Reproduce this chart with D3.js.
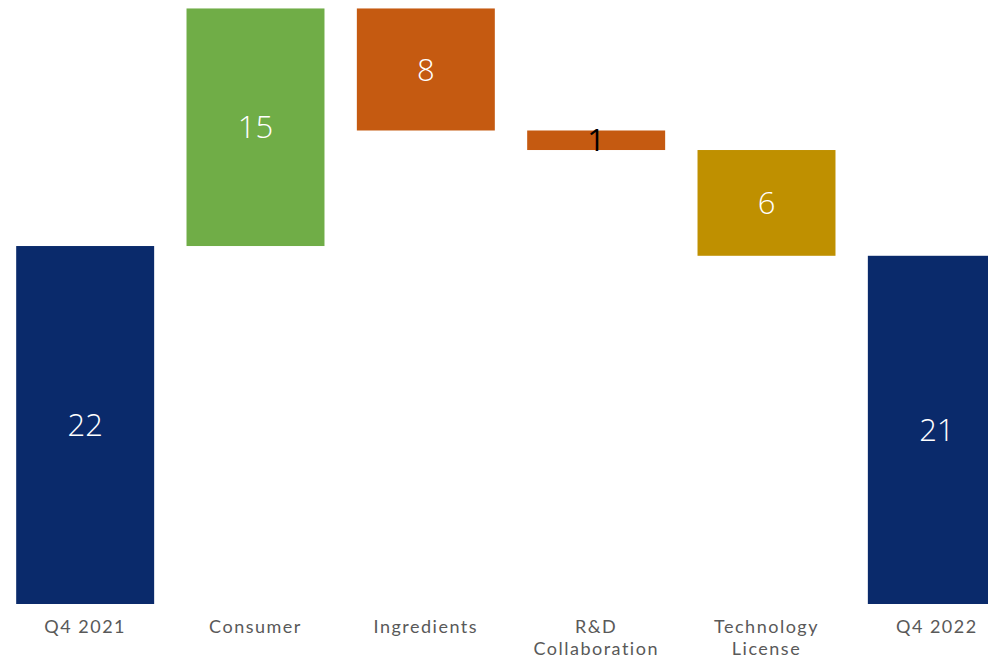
<!DOCTYPE html>
<html>
<head>
<meta charset="utf-8">
<script src="https://cdn.jsdelivr.net/npm/d3@7/dist/d3.min.js"></script>
<style>
    body { margin: 0; background: #fff; }
    svg { display: block; font-family: "Open Sans", "Noto Sans", sans-serif; }
    .x-labels text { font-family: "Lato", "Open Sans", sans-serif; }
</style>
</head>
<body>
<div id="chart"></div>
<script>
// data
var categories = ["Q4 2021", "Consumer", "Ingredients", "R&D Collaboration", "Technology License", "Q4 2022"];
var startValue = 22.0;
var changes = [14.6, -7.5, -1.2, -6.5];
var labels = ["22", "15", "8", "1", "6", "21"];
var colors = ["#0a2a6b", "#70ad47", "#c55a11", "#c55a11", "#bf9000", "#0a2a6b"];
var labelColors = ["#fff", "#fff", "#fff", "#000", "#fff", "#fff"];

// build the waterfall steps
function buildSteps(){
    var steps = [];
    var running = startValue;
    steps.push({y0: 0, y1: running});
    changes.forEach(function(c){
        steps.push({y0: running, y1: running + c});
        running += c;
    });
    steps.push({y0: 0, y1: running});
    return steps;
}

var steps = buildSteps();
steps.forEach(function(d, i){
    d.name = categories[i];
    d.label = labels[i];
    d.color = colors[i];
    d.labelColor = labelColors[i];
});

var width = 988, height = 659;

var svg = d3.select("#chart").append("svg")
    .attr("width", width)
    .attr("height", height);

var x = d3.scaleBand()
    .domain(categories)
    .range([0, 1022])
    .paddingInner(0.19)
    .paddingOuter(0.095);

var y = d3.scaleLinear()
    .domain([0, 37.12])
    .range([604, 0]);

var bars = svg.selectAll("g.bar")
    .data(steps).enter().append("g")
    .attr("class", "bar");

bars.append("rect")
    .attr("x", function(d){ return x(d.name); })
    .attr("width", x.bandwidth())
    .attr("y", function(d){ return y(Math.max(d.y0, d.y1)); })
    .attr("height", function(d){ return Math.abs(y(d.y0) - y(d.y1)); })
    .attr("fill", function(d){ return d.color; });

// black labels (on the thin bar) are drawn a bit heavier
bars.append("text")
    .attr("x", function(d){ return x(d.name) + x.bandwidth() / 2; })
    .attr("y", function(d){ return (y(d.y0) + y(d.y1)) / 2; })
    .attr("dy", "0.36em")
    .attr("text-anchor", "middle")
    .attr("font-size", 31)
    .attr("font-weight", function(d){ return d.labelColor == "#000" ? 400 : 300; })
    .attr("fill", function(d){ return d.labelColor; })
    .text(function(d){ return d.label; });

// category labels, wrapped on two lines where needed
var xAxis = svg.append("g").attr("class", "x-labels");
var wrapped = {"R&D Collaboration": ["R&D", "Collaboration"],
               "Technology License": ["Technology", "License"]};

categories.forEach(function(c){
    var lines = wrapped[c] || [c];
    var t = xAxis.append("text")
        .attr("x", x(c) + x.bandwidth() / 2)
        .attr("y", 633)
        .attr("text-anchor", "middle")
        .attr("font-size", 18)
        .attr("letter-spacing", 1.5)
        .attr("fill", "#595959");
    lines.forEach(function(l, i){
        t.append("tspan")
            .attr("x", x(c) + x.bandwidth() / 2)
            .attr("dy", i == 0 ? 0 : 22)
            .text(l);
    });
});
</script>
</body>
</html>
